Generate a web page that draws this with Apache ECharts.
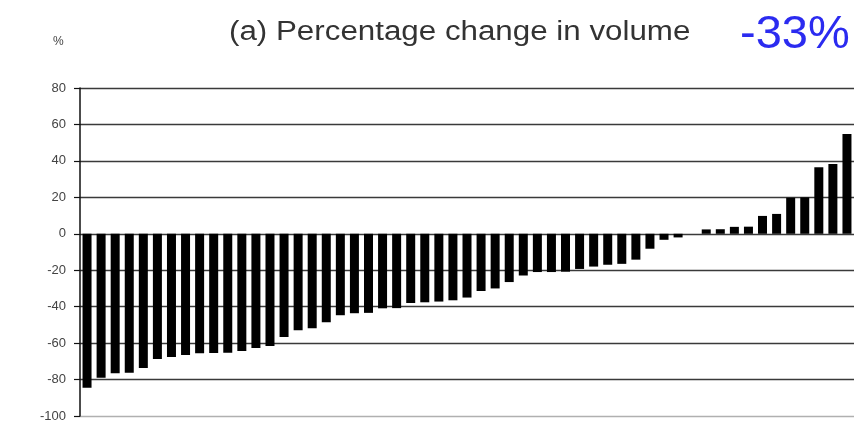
<!DOCTYPE html>
<html>
<head>
<meta charset="utf-8">
<style>
  html, body { margin: 0; padding: 0; background: #fff; }
  #chart { width: 854px; height: 423px; }
</style>
<script src="https://cdn.jsdelivr.net/npm/echarts@6/dist/echarts.min.js"></script>
</head>
<body>
<div id="chart"></div>
<script>
// Percentage change in volume, one bar per item, sorted from largest fall to largest rise
const changes = [
  -84.5, -79, -76.5, -76.3, -73.6, -68.7, -67.6, -66.5, -65.5, -65.4,
  -65.3, -64.3, -62.7, -61.6, -56.7, -52.9, -51.8, -48.5, -44.7, -43.6,
  -43.4, -40.9, -40.8, -38, -37.6, -37.2, -36.5, -35, -31.4, -30,
  -26.5, -22.9, -21, -21, -20.8, -19.3, -18, -17, -16.5, -14.2,
  -8.2, -3.3, -2, 0, 2.4, 2.5, 3.8, 3.9, 9.8, 10.9,
  19.8, 20, 36.5, 38.3, 54.7
];
const items = changes.map((_, i) => 'item' + (i + 1));
const yTicks = { min: -100, max: 80, step: 20 };
const titleText = '(a) Percentage change in volume';
const totalText = '-33%';
const unitText = '%';

const chart = echarts.init(document.getElementById('chart'), null, { renderer: 'canvas' });

// the bottom (-100) line is lighter than the rest of the grid
const lineCount = (yTicks.max - yTicks.min) / yTicks.step + 1;
const gridColors = Array.from({ length: lineCount }, (_, i) => (i === 0 ? '#b0b0b0' : '#3a3a3a'));

chart.setOption({
  animation: false,
  backgroundColor: '#ffffff',
  grid: { left: 80, top: 88, width: 776, height: 328, containLabel: false },
  xAxis: {
    type: 'category',
    data: items,
    boundaryGap: true,
    axisLine: { show: false },
    axisTick: { show: false },
    axisLabel: { show: false },
    splitLine: { show: false }
  },
  yAxis: {
    type: 'value',
    min: yTicks.min,
    max: yTicks.max,
    interval: yTicks.step,
    axisLine: { show: true, lineStyle: { color: '#111', width: 1.5 } },
    axisTick: { show: true, inside: false, length: 6, lineStyle: { color: '#111', width: 1.2 } },
    axisLabel: {
      color: '#444',
      fontFamily: 'Liberation Sans, Arial, sans-serif',
      fontSize: 13,
      margin: 14
    },
    splitLine: { show: true, lineStyle: { color: gridColors, width: 1.3 } }
  },
  series: [{
    type: 'bar',
    data: changes,
    barWidth: 9,
    itemStyle: { color: '#000' },
    silent: true
  }],
  graphic: [
    {
      type: 'text',
      left: 53, top: 36,
      style: { text: unitText, fill: '#444', font: '12px "Liberation Sans", Arial, sans-serif' }
    },
    {
      // the heading is set slightly wide
      type: 'text',
      x: 229, y: 19,
      scaleX: 1.16,
      style: { text: titleText, fill: '#333', font: '27px "Liberation Sans", Arial, sans-serif' }
    },
    {
      type: 'text',
      left: 740, top: 12,
      style: { text: totalText, fill: '#2b2bf0', font: '47px "Liberation Sans", Arial, sans-serif' }
    }
  ]
});
</script>
</body>
</html>
